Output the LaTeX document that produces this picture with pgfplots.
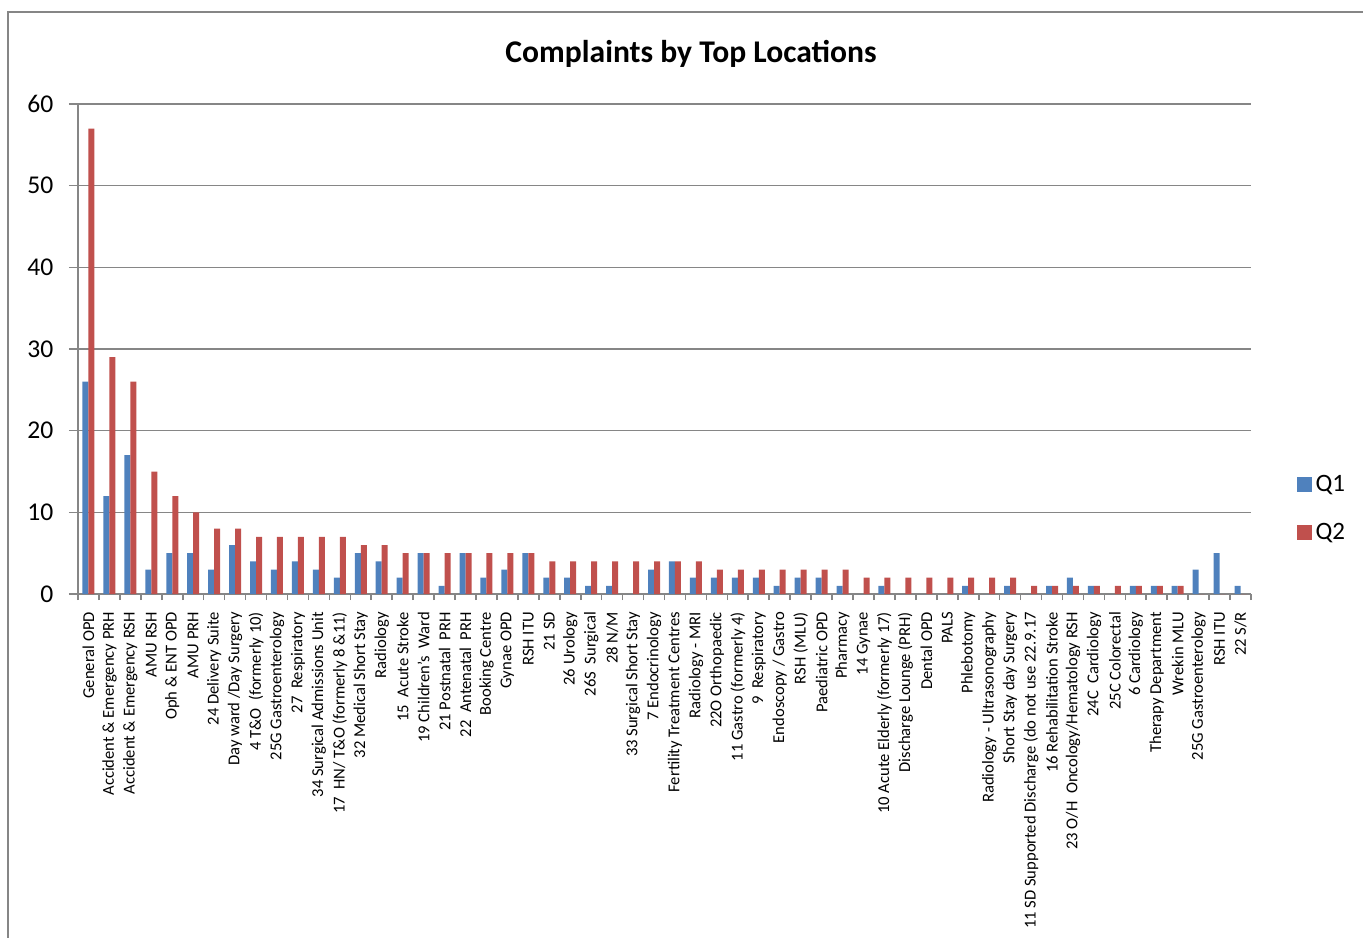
\documentclass[border=0pt]{standalone}
\usepackage{fontspec}
\setmainfont{Carlito}
\usepackage{pgfplots}
\usepackage{pgfplotstable}
\pgfplotsset{compat=1.18}
\definecolor{q1}{HTML}{4F81BD}
\definecolor{q2}{HTML}{C0504D}
\definecolor{axgray}{HTML}{868686}
\pgfplotstableread{
x q1 q2
0 26 57
1 12 29
2 17 26
3 3 15
4 5 12
5 5 10
6 3 8
7 6 8
8 4 7
9 3 7
10 4 7
11 3 7
12 2 7
13 5 6
14 4 6
15 2 5
16 5 5
17 1 5
18 5 5
19 2 5
20 3 5
21 5 5
22 2 4
23 2 4
24 1 4
25 1 4
26 0 4
27 3 4
28 4 4
29 2 4
30 2 3
31 2 3
32 2 3
33 1 3
34 2 3
35 2 3
36 1 3
37 0 2
38 1 2
39 0 2
40 0 2
41 0 2
42 1 2
43 0 2
44 1 2
45 0 1
46 1 1
47 2 1
48 1 1
49 0 1
50 1 1
51 1 1
52 1 1
53 3 0
54 5 0
55 1 0
}\data
\begin{document}
\begin{tikzpicture}
\useasboundingbox (-39pt,-171.5pt) rectangle (642.5pt,297pt);
\draw[axgray, line width=0.8pt] (-35pt,-200pt) -- (-35pt,291pt) -- (700pt,291pt);
\node[font=\bfseries\fontsize{15.8}{18}\selectfont] at (306.5pt,270pt) {Complaints by Top Locations};
\begin{axis}[at={(0,0)}, anchor=south west, scale only axis,
  width=586.5pt, height=245pt,
  ybar=0pt, bar width=3pt,
  xmin=-0.5, xmax=55.5, ymin=0, ymax=60, ytick={0,10,...,60},
  axis x line*=bottom, axis y line*=left,
  axis line style={axgray, line width=0.8pt},
  ymajorgrids, grid style={axgray, line width=0.7pt},
  tick align=outside,
  major tick length=4.5pt, minor tick length=3pt,
  xtick=data,
  major x tick style={draw=none},
  minor xtick={-0.5,0.5,...,55.5},
  minor x tick style={axgray, line width=0.8pt},
  major y tick style={axgray, line width=0.8pt},
  /pgf/number format/assume math mode=true,
  yticklabel style={font=\fontsize{12.8}{15}\selectfont, xshift=-4.3pt},
  xticklabel style={font=\fontsize{8.3}{10}\selectfont, rotate=90, anchor=east, xshift=-1pt},
  xticklabels={{General OPD},{Accident \& Emergency PRH},{Accident \& Emergency RSH},{AMU RSH},{Oph \& ENT OPD},{AMU PRH},{24 Delivery Suite},{Day ward /Day Surgery},{4 T\&O\ \ (formerly 10)},{25G Gastroenterology},{27\ \ Respiratory},{34 Surgical Admissions Unit},{17\ \ HN/ T\&O (formerly 8 \&11)},{32 Medical Short Stay},{Radiology},{15\ \ Acute Stroke},{19 Children's\ \ Ward},{21 Postnatal\ \ PRH},{22\ \ Antenatal\ \ PRH},{Booking Centre},{Gynae OPD},{RSH ITU},{21 SD},{26 Urology},{26S\ \ Surgical},{28 N/M},{33 Surgical Short Stay},{7 Endocrinology},{Fertility Treatment Centres},{Radiology - MRI},{22O Orthopaedic},{11 Gastro (formerly 4)},{9\ \ Respiratory},{Endoscopy / Gastro},{RSH (MLU)},{Paediatric OPD},{Pharmacy},{14 Gynae},{10 Acute Elderly (formerly 17)},{Discharge Lounge (PRH)},{Dental OPD},{PALS},{Phlebotomy},{Radiology - Ultrasonography},{Short Stay day Surgery},{11 SD Supported Discharge (do not use 22.9.17},{16 Rehabilitation Stroke},{23 O/H\ \ Oncology/Hematology RSH},{24C\ \ Cardiology},{25C Colorectal},{6 Cardiology},{Therapy Department},{Wrekin MLU},{25G Gastroenterology},{RSH ITU},{22 S/R}},
  legend style={at={(1.0385,0.1745)}, anchor=west, draw=none, fill=none, inner sep=0pt,
    font=\fontsize{12.5}{15}\selectfont, row sep=10.5pt},
  legend cell align=left,
]
\addplot[fill=q1, draw=none, legend image code/.code={\fill[q1] (0pt,-3.75pt) rectangle (7.5pt,3.75pt);}] table[x=x, y=q1] {\data};
\addplot[fill=q2, draw=none, legend image code/.code={\fill[q2] (0pt,-3.75pt) rectangle (7.5pt,3.75pt);}] table[x=x, y=q2] {\data};
\legend{Q1,Q2}
\end{axis}
\end{tikzpicture}
\end{document}
